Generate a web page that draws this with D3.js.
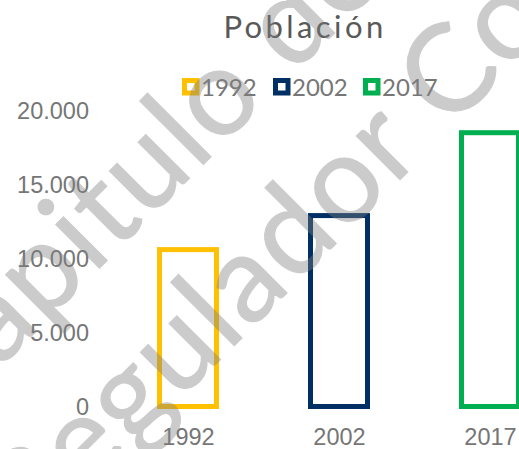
<!DOCTYPE html>
<html lang="es">
<head>
    <meta charset="UTF-8">
    <title>Población</title>
    <script src="https://d3js.org/d3.v7.min.js"></script>
    <style>
        body {
            margin: 0;
            background: #fff;
            font-family: Lato, "Open Sans", sans-serif;
        }
        svg { display: block; }
        .tick-label {
            font-size: 23.5px;
            fill: #767676;
        }
    </style>
</head>
<body>
    <svg width="519" height="449"></svg>
    <script>
        const categories = ["1992", "2002", "2017"];
        const values = [10600, 12900, 18500];
        const colors = ["#FFC000", "#002F63", "#00B050"];
        const yTicks = [0, 5000, 10000, 15000, 20000];
        const watermark = ["Capitulo de", "Regulador Co"];

        const width = 519, height = 449;
        const svg = d3.select("svg");

        const x = d3.scalePoint()
            .domain(categories)
            .range([188, 490]);
        const barW = 57;

        const y = d3.scaleLinear()
            .domain([0, 20000])
            .range([406.5, 110.5]);

        const fmt = d => d3.format(",")(d).replace(/,/g, ".");

        // title
        svg.append("text")
            .attr("x", 305)
            .attr("y", 38)
            .attr("text-anchor", "middle")
            .attr("fill", "#595959")
            .style("font-size", "31px")
            .style("letter-spacing", "3.4px")
            .text("Población");

        // legend
        const legendX = [182, 273, 363];
        const legend = svg.append("g")
            .selectAll("g")
            .data(categories)
            .enter().append("g")
            .attr("transform", (d, i) => `translate(${legendX[i]},78)`);
        legend.append("rect")
            .attr("x", 2.5).attr("y", 2.5)
            .attr("width", 12.5).attr("height", 12.5)
            .attr("fill", "none")
            .attr("stroke", (d, i) => colors[i])
            .attr("stroke-width", 5);
        legend.append("text")
            .attr("x", 19)
            .attr("y", 18)
            .attr("fill", "#767676")
            .style("font-size", "24px")
            .text(d => d);

        // y axis labels (no line)
        const yAxis = svg.append("g")
            .attr("transform", "translate(89,0)")
            .call(d3.axisLeft(y).tickValues(yTicks).tickFormat(fmt).tickSize(0).tickPadding(0));
        yAxis.select(".domain").remove();
        yAxis.selectAll("text")
            .attr("class", "tick-label")
            .attr("font-family", null)
            .attr("font-size", null);

        // x axis labels
        const xAxis = svg.append("g")
            .attr("transform", "translate(0,445)")
            .call(d3.axisBottom(x).tickSize(0).tickPadding(0));
        xAxis.select(".domain").remove();
        xAxis.selectAll("text")
            .attr("class", "tick-label")
            .attr("font-family", null)
            .attr("font-size", null)
            .attr("dy", 0)
            .attr("y", 0);

        // bars (outlined)
        svg.append("g")
            .selectAll("rect")
            .data(values)
            .enter().append("rect")
            .attr("x", (d, i) => x(categories[i]) - barW / 2)
            .attr("y", d => y(d))
            .attr("width", barW)
            .attr("height", d => y(0) - y(d))
            .attr("fill", "none")
            .attr("stroke", (d, i) => colors[i])
            .attr("stroke-width", 5);

        // watermark
        svg.append("g")
            .attr("transform", "rotate(-45)")
            .attr("opacity", 0.4)
            .selectAll("text")
            .data(watermark)
            .enter().append("text")
            .attr("x", (d, i) => i === 0 ? -345 : -364)
            .attr("y", (d, i) => i === 0 ? 260 : 410)
            .attr("fill", "#808080")
            .attr("stroke", "#808080")
            .attr("stroke-width", 1.2)
            .style("font-size", "122px")
            .style("letter-spacing", "2px")
            .text(d => d);
    </script>
</body>
</html>
